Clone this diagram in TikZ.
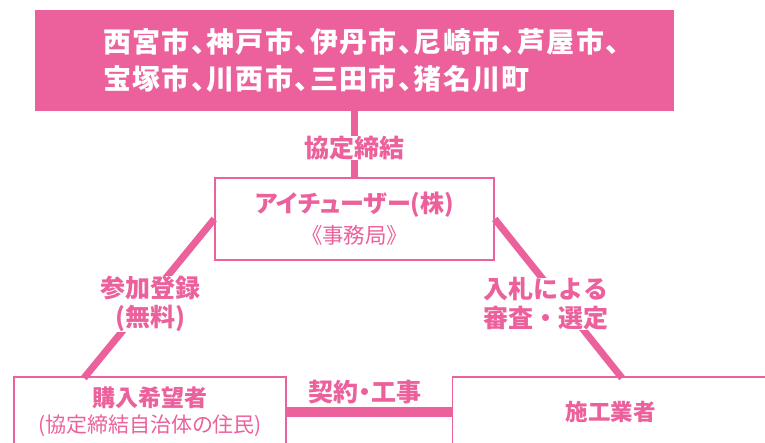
\documentclass[tikz,border=0pt]{standalone}
\usepackage{fontspec}
\setmainfont{Noto Sans CJK JP}[RawFeature=+palt]
\newfontfamily\fullwidth{Noto Sans CJK JP}
\definecolor{sakura}{HTML}{EC619C}
\tikzset{
    framebox/.style={draw=sakura, line width=1.5pt, fill=white, text=sakura, align=center, inner sep=0pt},
    linkline/.style={draw=sakura, line width=7pt},
    linklabel/.style={fill=white, text=sakura, align=center, inner sep=0pt, font=\fullwidth\fontsize{25}{29}\selectfont\bfseries},
}
\begin{document}
\begin{tikzpicture}[x=1pt, y=-1pt]
    \clip (0,0) rectangle (765,442);
    \node [fill=sakura, text=white, minimum width=639pt, minimum height=101pt, inner sep=0pt] (cities) at (354.5,60.5) {%
        \begin{minipage}{503pt}\fontsize{28}{37}\selectfont\bfseries\addfontfeature{LetterSpace=5}
        \mbox{西宮市、神戸市、伊丹市、尼崎市、芦屋市、}\\
        \mbox{宝塚市、川西市、三田市、猪名川町}
        \end{minipage}};
    \node [framebox, minimum width=279pt, minimum height=82pt] (office) at (354.5,219) {%
        {\fontsize{24}{30}\selectfont\bfseries アイチューザー(株)}\\[7pt]{\fontsize{21.5}{24}\selectfont 《事務局》}};
    \node [framebox, minimum width=272pt, minimum height=70pt] (buyer) at (150,412) {%
        {\fontsize{23}{29}\selectfont\bfseries 購入希望者}\\[5pt]{\fontsize{21}{26}\selectfont (協定締結自治体の住民)}};
    \node [framebox, minimum width=316pt, minimum height=70pt, font=\fontsize{22.5}{28}\selectfont\bfseries] (builder) at (610.5,412) {施工業者};
    \coordinate (buyertop) at (84,378);
    \coordinate (buildertop) at (622,378);
    \draw [linkline] (cities.south) -- (office.north);
    \draw [linkline] (office.west) -- (buyertop);
    \draw [linkline] (office.east) -- (buildertop);
    \draw [linkline, line width=10pt] (buyer.east) -- (builder.west);
    \node [linklabel] (signing) at (354,148) {協定締結};
    \node [linklabel] (signup) at (150,304) {参加登録\\(無料)};
    \node [linklabel] (bidding) at (546,304) {入札による\\審査・選定};
    \node [text=sakura, font=\fontsize{25}{29}\selectfont\bfseries, inner sep=0pt] (contract) at (365,392) {契約・工事};
\end{tikzpicture}
\end{document}
